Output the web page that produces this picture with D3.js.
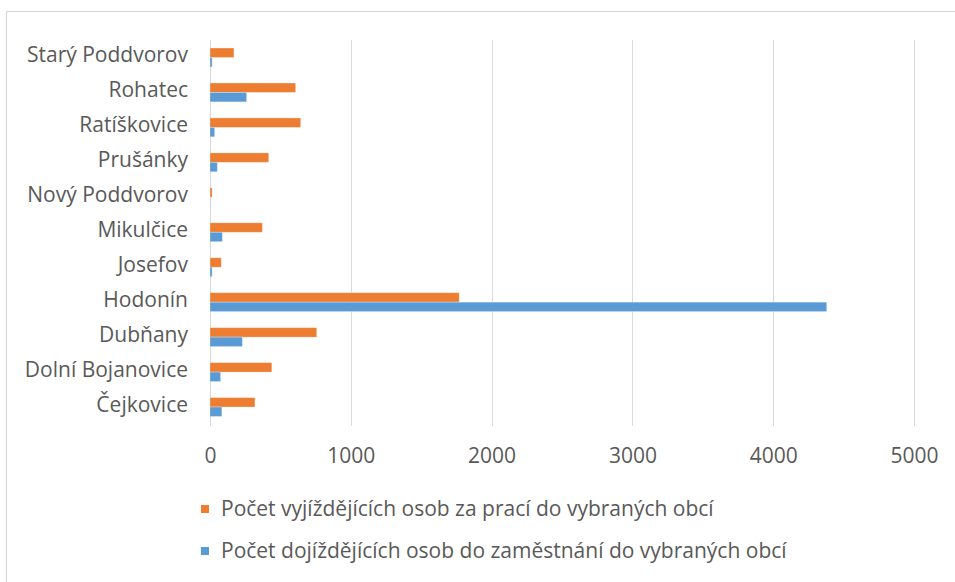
<!DOCTYPE html>
<html>
<head>
<meta charset="utf-8">
<script src="https://cdn.jsdelivr.net/npm/d3@7"></script>
<style>
  body { margin: 0; background: #fff; }
  svg { display: block; }
  text { font-family: "Open Sans", "Liberation Sans", sans-serif; fill: #595959; }
</style>
</head>
<body>
<svg id="chart" width="955" height="582"></svg>
<script>
const categories = ["Starý Poddvorov", "Rohatec", "Ratíškovice", "Prušánky", "Nový Poddvorov", "Mikulčice", "Josefov", "Hodonín", "Dubňany", "Dolní Bojanovice", "Čejkovice"];
const vyjizdejici = [170, 608, 644, 417, 15, 372, 80, 1770, 758, 439, 319];
const dojizdejici = [15, 260, 33, 52, 2, 88, 15, 4380, 230, 75, 84];
const seriesNames = ["Počet vyjíždějících osob za prací do vybraných obcí", "Počet dojíždějících osob do zaměstnání do vybraných obcí"];
const seriesColors = ["#ED7D31", "#5B9BD5"];
const xTicks = [0, 1000, 2000, 3000, 4000, 5000];

const svg = d3.select("#chart");

// chart frame
svg.append("rect").attr("x", 6.5).attr("y", 11.5).attr("width", 960).attr("height", 600)
  .attr("fill", "none").attr("stroke", "#d9d9d9").attr("stroke-width", 1.2);

const x = d3.scaleLinear().domain([0, 5000]).range([210, 914]);
const y = d3.scaleBand().domain(categories).range([40, 424.5]).paddingInner(0.46).paddingOuter(0.23);
const sub = d3.scaleBand().domain([0, 1]).range([0, y.bandwidth()]);

// gridlines
svg.append("g").selectAll("line").data(xTicks).join("line")
  .attr("x1", d => Math.round(x(d)) + 0.5).attr("x2", d => Math.round(x(d)) + 0.5)
  .attr("y1", 40).attr("y2", 426)
  .attr("stroke", "#d9d9d9").attr("stroke-width", 1);

const FS = 21;

// x axis labels
const xAxis = d3.axisBottom(x).tickValues(xTicks).tickSize(0).tickPadding(0).tickFormat(d3.format("d"));
const gx = svg.append("g").attr("transform", "translate(0,456)").call(xAxis);
gx.select(".domain").remove();
gx.selectAll("text").attr("font-size", FS).attr("font-family", null).attr("fill", "#595959").attr("dy", "0.35em");

// y axis labels
const yAxis = d3.axisLeft(y).tickSize(0).tickPadding(0);
const gy = svg.append("g").attr("transform", "translate(188,0)").call(yAxis);
gy.select(".domain").remove();
gy.selectAll("text").attr("font-size", FS).attr("font-family", null).attr("fill", "#595959").attr("dy", "0.22em");

// bars
const series = [vyjizdejici, dojizdejici];
series.forEach((vals, si) => {
  svg.append("g").selectAll("rect").data(categories).join("rect")
    .attr("x", x(0))
    .attr("y", c => y(c) + sub(si))
    .attr("width", (c, i) => Math.max(0, x(vals[i]) - x(0)))
    .attr("height", sub.bandwidth())
    .attr("fill", seriesColors[si])
    .attr("stroke", "#fff").attr("stroke-opacity", 0.35).attr("stroke-width", 0.8);
});

// legend
const leg = svg.append("g");
seriesNames.forEach((name, i) => {
  const ly = 509 + i * 42;
  leg.append("rect").attr("x", 201).attr("y", ly - 4).attr("width", 8).attr("height", 8).attr("fill", seriesColors[i]);
  leg.append("text").attr("x", 221).attr("y", ly).attr("dy", "0.35em").attr("font-size", FS).text(name);
});
</script>
</body>
</html>
